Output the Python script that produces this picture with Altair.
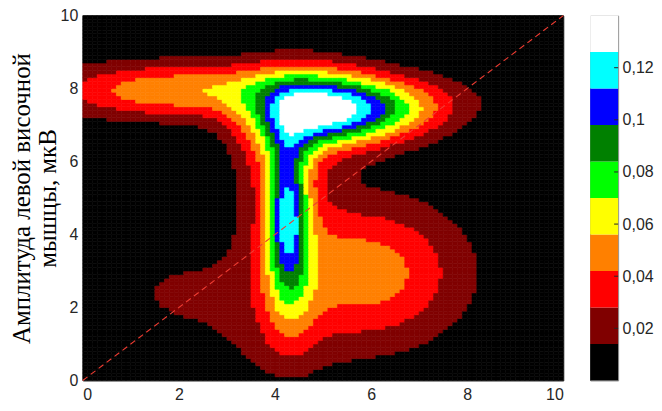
import numpy as np
import pandas as pd
import altair as alt

# ---- density field: Gaussian components ----
comp_cx  = [4.70, 5.70, 6.60, 1.90, 4.30, 4.15, 4.27, 4.20, 4.30, 5.90, 2.10, 3.70, 4.30, 4.60]
comp_cy  = [7.35, 7.35, 7.70, 7.95, 6.40, 6.30, 4.50, 5.00, 2.20, 2.95, 2.40, 1.00, 0.30, 8.30]
comp_sx  = [0.90, 1.15, 1.30, 1.85, 0.30, 0.60, 0.30, 0.70, 0.40, 1.45, 1.00, 1.10, 0.55, 1.20]
comp_sy  = [0.74, 0.60, 0.55, 0.55, 0.90, 0.80, 1.20, 2.00, 1.00, 1.42, 0.75, 0.70, 0.50, 0.50]
comp_amp = [0.066, 0.072, 0.020, 0.053, 0.012, 0.021, 0.085, 0.022, 0.025, 0.050, 0.016, 0.009,
            0.004, 0.012]

# colour levels (10 bands, 0 .. 0.14)
levels = [0.014, 0.028, 0.042, 0.056, 0.070, 0.084, 0.098, 0.112, 0.126]
band_lo = [0.0, 0.014, 0.028, 0.042, 0.056, 0.070, 0.084, 0.098, 0.112, 0.126]
band_hi = [0.014, 0.028, 0.042, 0.056, 0.070, 0.084, 0.098, 0.112, 0.126, 0.140]
colors = ["#000000", "#800000", "#ff0000", "#ff8000", "#ffff00",
          "#00ff00", "#008000", "#0000ff", "#00ffff", "#ffffff"]
cbar_ticks = [0.02, 0.04, 0.06, 0.08, 0.10, 0.12]
axis_ticks = [0, 2, 4, 6, 8, 10]
diag_x = [0, 10]
diag_y = [0, 10]
y_title = ["Амплитуда левой височной", "мышцы, мкВ"]

# ---- grid of cells ----
step = 0.1
edges = np.round(np.arange(0, 10 + step / 2, step), 3)
centres = (edges[:-1] + edges[1:]) / 2
X, Y = np.meshgrid(centres, centres)
V = np.zeros_like(X)
for a, b, s, t, A in zip(comp_cx, comp_cy, comp_sx, comp_sy, comp_amp):
    V += A * np.exp(-0.5 * (((X - a) / s) ** 2 + ((Y - b) / t) ** 2))
I, J = np.meshgrid(np.arange(len(centres)), np.arange(len(centres)))
grid = pd.DataFrame({
    "x0": edges[I.ravel()], "x1": edges[I.ravel() + 1],
    "y0": edges[J.ravel()], "y1": edges[J.ravel() + 1],
    "v": V.ravel(),
})

W, H = 482, 366
lab_font = "Liberation Sans"

thr = alt.Scale(type="threshold", domain=levels, range=colors)

heat = alt.Chart(grid).mark_rect(strokeWidth=0.6).encode(
    x=alt.X("x0:Q", scale=alt.Scale(domain=[0, 10], nice=False),
            axis=alt.Axis(values=axis_ticks, title=None, labelPadding=6)),
    x2="x1:Q",
    y=alt.Y("y0:Q", scale=alt.Scale(domain=[0, 10], nice=False),
            axis=alt.Axis(values=axis_ticks, title=y_title, labelPadding=5,
                          titleFont="Liberation Serif", titleFontSize=25,
                          titleFontWeight="normal", titleColor="#000000",
                          titleLineHeight=26, titlePadding=0)),
    y2="y1:Q",
    color=alt.Color("v:Q", scale=thr, legend=None),
    stroke=alt.Stroke("v:Q", scale=thr, legend=None),
)

diag = alt.Chart(pd.DataFrame({"x": diag_x, "y": diag_y})).mark_line(
    color="#f03c32", strokeDash=[6, 4], strokeWidth=1.1
).encode(x="x:Q", y="y:Q")

main = alt.layer(heat, diag).properties(
    width=W, height=H, view=alt.ViewBackground(stroke="#262626", strokeWidth=1)
)

bands = pd.DataFrame({"lo": band_lo, "hi": band_hi, "c": colors})
cb_rect = alt.Chart(bands).mark_rect().encode(
    x=alt.value(0), x2=alt.value(28),
    y=alt.Y("lo:Q", scale=alt.Scale(domain=[0, 0.14], nice=False),
            axis=alt.Axis(orient="right", values=cbar_ticks, title=None, grid=False,
                          labelPadding=4,
                          labelExpr="replace(format(datum.value, '.2~f'), '.', ',')")),
    y2="hi:Q",
    color=alt.Color("c:N", scale=None),
)
cb_tick = alt.Chart(pd.DataFrame({"t": cbar_ticks})).mark_rule(
    color="#262626", strokeWidth=1
).encode(x=alt.value(24), x2=alt.value(28), y="t:Q")

colorbar = alt.layer(cb_rect, cb_tick).properties(
    width=28, height=H, view=alt.ViewBackground(stroke="#8c8c8c", strokeWidth=1)
)

chart = alt.hconcat(main, colorbar, spacing=23).properties(
    padding={"left": 0, "top": -2, "right": 0, "bottom": 0}
).configure_axis(
    labelFont=lab_font, labelFontSize=16, labelColor="#262626",
    ticks=False, domain=False, grid=True, gridColor="#262626",
    gridOpacity=0.15, zindex=1,
).configure_axisRight(grid=False)

chart.save("out.html", embed_options={"renderer": "svg", "actions": False})
